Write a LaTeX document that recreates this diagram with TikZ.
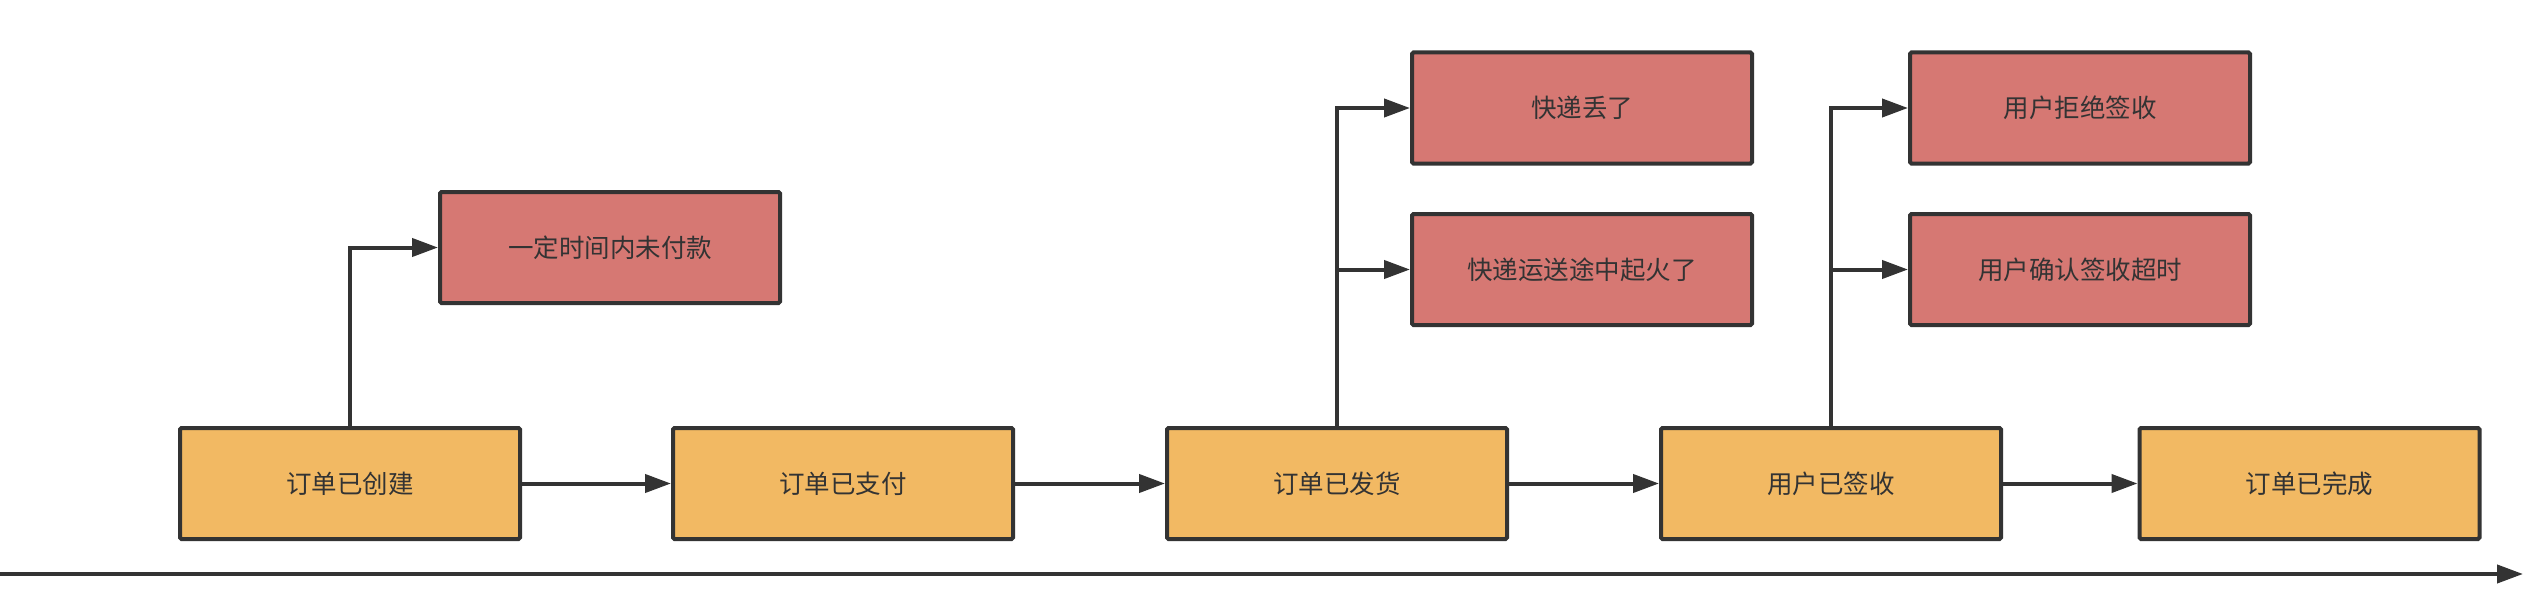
\documentclass[tikz,border=0pt]{standalone}
\usepackage{fontspec}
\newfontfamily\cjk{Noto Sans CJK SC}
\usetikzlibrary{arrows.meta}
\definecolor{stk}{HTML}{333333}
\definecolor{okfill}{HTML}{F2B963}
\definecolor{badfill}{HTML}{D67873}
\tikzset{
  statebox/.style={draw=stk, line width=4pt, rounded corners=1.5pt, minimum width=340pt, minimum height=111pt, inner sep=0pt, font=\cjk\fontsize{25.5}{30}\selectfont, text=stk},
  okbox/.style={statebox, fill=okfill},
  badbox/.style={statebox, fill=badfill},
  arr/.style={draw=stk, line width=4pt, -{Triangle[length=26pt,width=18pt]}},
}
\begin{document}
\begin{tikzpicture}[x=1pt,y=-1pt]
\useasboundingbox (0,0) rectangle (2526,610);
\node[okbox] (b1) at (350,483.5) {订单已创建};
\node[okbox] (b2) at (843,483.5) {订单已支付};
\node[okbox] (b3) at (1337,483.5) {订单已发货};
\node[okbox] (b4) at (1831,483.5) {用户已签收};
\node[okbox] (b5) at (2309.5,483.5) {订单已完成};
\node[badbox] (r1) at (610,247.5) {一定时间内未付款};
\node[badbox] (r2) at (1582,108) {快递丢了};
\node[badbox] (r3) at (1582,269.5) {快递运送途中起火了};
\node[badbox] (r4) at (2080,108) {用户拒绝签收};
\node[badbox] (r5) at (2080,269.5) {用户确认签收超时};
\coordinate (t0) at (0,574);
\coordinate (t1) at (2523,574);
\draw[arr] (b1) -- (b2);
\draw[arr] (b2) -- (b3);
\draw[arr] (b3) -- (b4);
\draw[arr] (b4) -- (b5);
\draw[arr] (b1.north) |- (r1.west);
\draw[arr] (b3.north) |- (r2.west);
\draw[arr] (b3.north) |- (r3.west);
\draw[arr] (b4.north) |- (r4.west);
\draw[arr] (b4.north) |- (r5.west);
\draw[arr] (t0) -- (t1);
\end{tikzpicture}
\end{document}
